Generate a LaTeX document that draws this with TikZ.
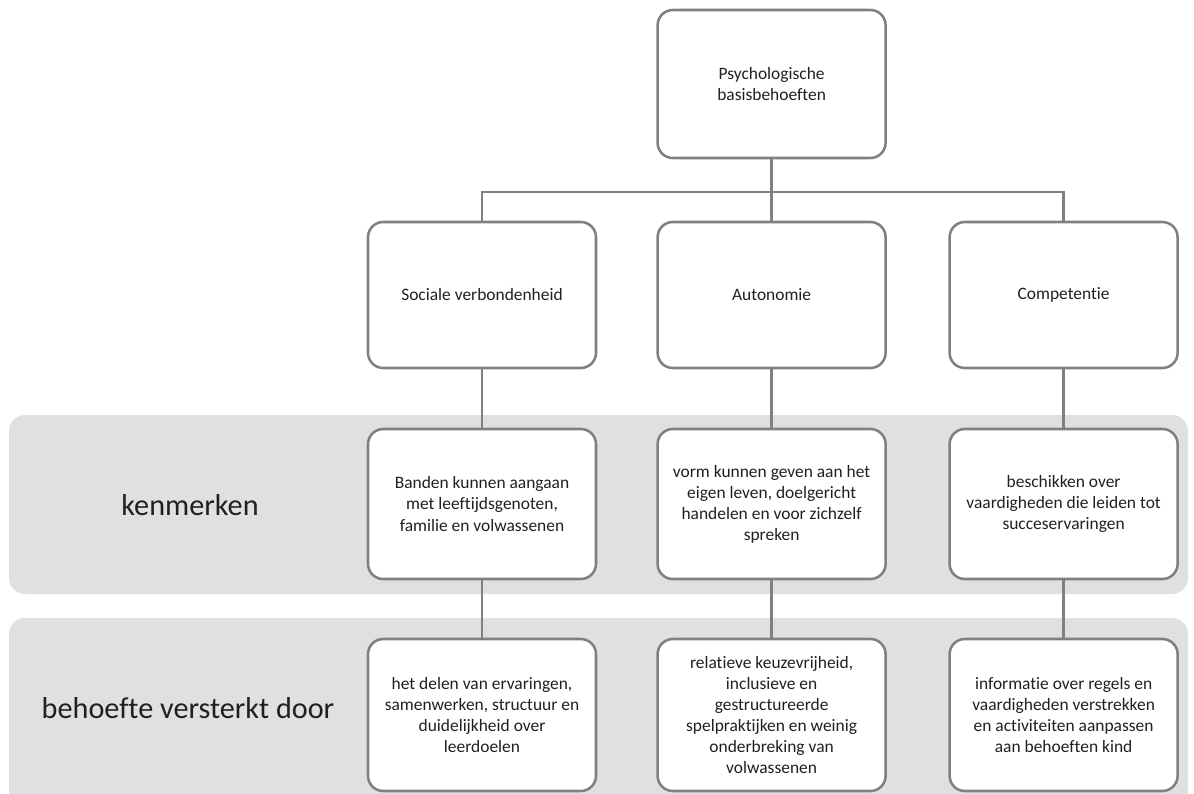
\documentclass[tikz,border=0pt]{standalone}
\usepackage{fontspec}
\setmainfont[Ligatures=NoCommon]{Carlito}
\definecolor{boxgray}{HTML}{808080}
\definecolor{bandgray}{HTML}{E0E0E0}
\definecolor{txtgray}{HTML}{202020}

\begin{document}
\begin{tikzpicture}
\tikzstyle{need}=[draw=boxgray, line width=1.8pt, rounded corners=0.38cm, fill=white, align=center, minimum width=5.7cm, minimum height=3.7cm, inner sep=2pt, text=txtgray, font=\fontsize{12.4}{15}\selectfont]
\tikzstyle{band}=[fill=bandgray, rounded corners=0.4cm]
\tikzstyle{rowlabel}=[text=txtgray, font=\fontsize{21.5}{25}\selectfont]
\tikzstyle{link}=[draw=boxgray, line width=1.8pt]
\useasboundingbox (0,0) rectangle (29.85,-19.825);
% grey bands behind the two lower rows
\fill [band] (0.225,-10.375) rectangle (29.7,-14.85);
\fill [band] (0.225,-15.45) rectangle (29.7,-20.3);
\node [rowlabel] (kenm) at (4.75,-12.62) {kenmerken};
\node [rowlabel] (verst) at (4.7,-17.7) {behoefte versterkt door};
% top
\node [need] (basis) at (19.29,-2.1) {Psychologische\\basisbehoeften};
\coordinate (bus) at (19.29,-4.8);
% three needs
\node [need, minimum height=3.65cm] (soc) at (12.05,-7.375) {Sociale verbondenheid};
\node [need, minimum height=3.65cm] (aut) at (19.29,-7.375) {Autonomie};
\node [need, minimum height=3.65cm] (comp) at (26.59,-7.375) {Competentie};
% kenmerken
\node [need, minimum height=3.75cm] (ksoc) at (12.05,-12.6) {Banden kunnen aangaan\\met leeftijdsgenoten,\\familie en volwassenen};
\node [need, minimum height=3.75cm] (kaut) at (19.29,-12.6) {vorm kunnen geven aan het\\eigen leven, doelgericht\\handelen en voor zichzelf\\spreken};
\node [need, minimum height=3.75cm] (kcomp) at (26.59,-12.6) {beschikken over\\vaardigheden die leiden tot\\succeservaringen};
% versterkt door
\node [need, minimum height=3.8cm] (vsoc) at (12.05,-17.875) {het delen van ervaringen,\\samenwerken, structuur en\\duidelijkheid over\\leerdoelen};
\node [need, minimum height=3.8cm] (vaut) at (19.29,-17.875) {relatieve keuzevrijheid,\\inclusieve en\\gestructureerde\\spelpraktijken en weinig\\onderbreking van\\volwassenen};
\node [need, minimum height=3.8cm] (vcomp) at (26.59,-17.875) {informatie over regels en\\vaardigheden verstrekken\\en activiteiten aanpassen\\aan behoeften kind};
% connectors
\draw [link] (basis.south) -- (bus);
\draw [link] (soc.north) -- (soc.north |- bus) -- (comp.north |- bus) -- (comp.north);
\draw [link] (bus) -- (aut.north);
\draw [link] (soc.south) -- (ksoc.north);
\draw [link] (aut.south) -- (kaut.north);
\draw [link] (comp.south) -- (kcomp.north);
\draw [link] (ksoc.south) -- (vsoc.north);
\draw [link] (kaut.south) -- (vaut.north);
\draw [link] (kcomp.south) -- (vcomp.north);
\end{tikzpicture}
\end{document}
